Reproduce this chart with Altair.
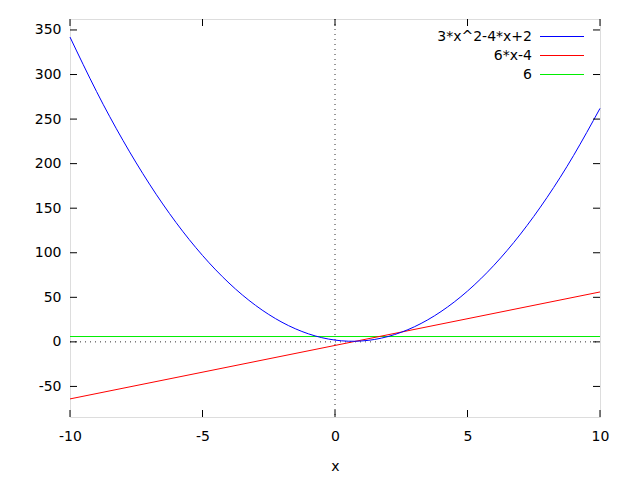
import altair as alt
import pandas as pd

# Values
x_int = list(range(-10, 11))
quad_y = [342, 281, 226, 177, 134, 97, 66, 41, 22, 9, 2, 1, 6, 17, 34, 57, 86, 121, 162, 209, 262]
lin_x = [-10, 10]
lin_y = [-64, 56]
const_x = [-10, 10]
const_y = [6, 6]

legend_labels = ["3*x^2-4*x+2", "6*x-4", "6"]
colors = ["#0000ff", "#ff0000", "#00ee00"]

x_ticks = [-10, -5, 0, 5, 10]
y_ticks = [-50, 0, 50, 100, 150, 200, 250, 300, 350]

W, H = 530, 398
FONT = "DejaVu Sans"
FS = 14

xs = alt.Scale(domain=[-10, 10], nice=False, zero=False)
ys = alt.Scale(domain=[-84.3, 362.3], nice=False, zero=False)

df_q = pd.DataFrame({"x": x_int, "y": quad_y})
df_l = pd.DataFrame({"x": lin_x, "y": lin_y})
df_c = pd.DataFrame({"x": const_x, "y": const_y})
df_xt = pd.DataFrame({"v": x_ticks})
df_yt = pd.DataFrame({"v": y_ticks})

x_axis = alt.Axis(values=x_ticks, grid=False, domain=False, ticks=False,
                  labelFont=FONT, labelFontSize=FS, labelPadding=12, labelColor="black",
                  labelFlush=False, labelOverlap=False, labelExpr="datum.value + ''",
                  title="x", titleFont=FONT, titleFontSize=FS, titleFontWeight="normal",
                  titlePadding=16, titleColor="black")
y_axis = alt.Axis(values=y_ticks, grid=False, domain=False, ticks=False,
                  labelFont=FONT, labelFontSize=FS, labelPadding=9, labelColor="black",
                  labelFlush=False, labelOverlap=False, labelExpr="datum.value + ''",
                  title=None)

base_axes = alt.Chart(df_q).mark_line(opacity=0).encode(
    x=alt.X("x:Q", scale=xs, axis=x_axis),
    y=alt.Y("y:Q", scale=ys, axis=y_axis),
)

zero_v = alt.Chart(pd.DataFrame({"v": [0]})).mark_rule(color="#333333", strokeDash=[1, 4], strokeWidth=1).encode(
    x=alt.X("v:Q", scale=xs), y=alt.value(0), y2=alt.value(H))
zero_h = alt.Chart(pd.DataFrame({"v": [0]})).mark_rule(color="#333333", strokeDash=[1, 4], strokeWidth=1).encode(
    y=alt.Y("v:Q", scale=ys), x=alt.value(0), x2=alt.value(W))

const_line = alt.Chart(df_c).mark_line(color=colors[2], strokeWidth=1).encode(
    x=alt.X("x:Q", scale=xs), y=alt.Y("y:Q", scale=ys))
lin_line = alt.Chart(df_l).mark_line(color=colors[1], strokeWidth=1).encode(
    x=alt.X("x:Q", scale=xs), y=alt.Y("y:Q", scale=ys))
quad_line = alt.Chart(df_q).mark_line(color=colors[0], strokeWidth=1, interpolate="natural").encode(
    x=alt.X("x:Q", scale=xs), y=alt.Y("y:Q", scale=ys))

TL = 7
yt_left = alt.Chart(df_yt).mark_rule(color="black").encode(
    y=alt.Y("v:Q", scale=ys), x=alt.value(0), x2=alt.value(TL))
yt_right = alt.Chart(df_yt).mark_rule(color="black").encode(
    y=alt.Y("v:Q", scale=ys), x=alt.value(W - TL), x2=alt.value(W))
xt_bot = alt.Chart(df_xt).mark_rule(color="black").encode(
    x=alt.X("v:Q", scale=xs), y=alt.value(H - TL), y2=alt.value(H))
xt_top = alt.Chart(df_xt).mark_rule(color="black").encode(
    x=alt.X("v:Q", scale=xs), y=alt.value(0), y2=alt.value(TL))

legend_layers = []
for i, (lab, col) in enumerate(zip(legend_labels, colors)):
    yy = 17.5 + 19 * i
    legend_layers.append(
        alt.Chart(pd.DataFrame({"t": [lab]})).mark_text(
            align="right", baseline="middle", font=FONT, fontSize=FS, color="black"
        ).encode(text="t:N", x=alt.value(462), y=alt.value(yy))
    )
    legend_layers.append(
        alt.Chart(pd.DataFrame({"t": [lab]})).mark_rule(color=col, strokeWidth=1).encode(
            x=alt.value(470), x2=alt.value(514), y=alt.value(yy))
    )

chart = alt.layer(
    base_axes, zero_v, zero_h, const_line, lin_line, quad_line,
    yt_left, yt_right, xt_bot, xt_top, *legend_layers
).properties(
    width=W, height=H,
    autosize=alt.AutoSizeParams(type="none"),
    padding={"left": 62, "top": 11, "right": 32, "bottom": 55},
).configure_view(stroke="black", strokeWidth=1).configure(background="white")

chart.save("out.html", embed_options={"renderer": "svg", "actions": False})
